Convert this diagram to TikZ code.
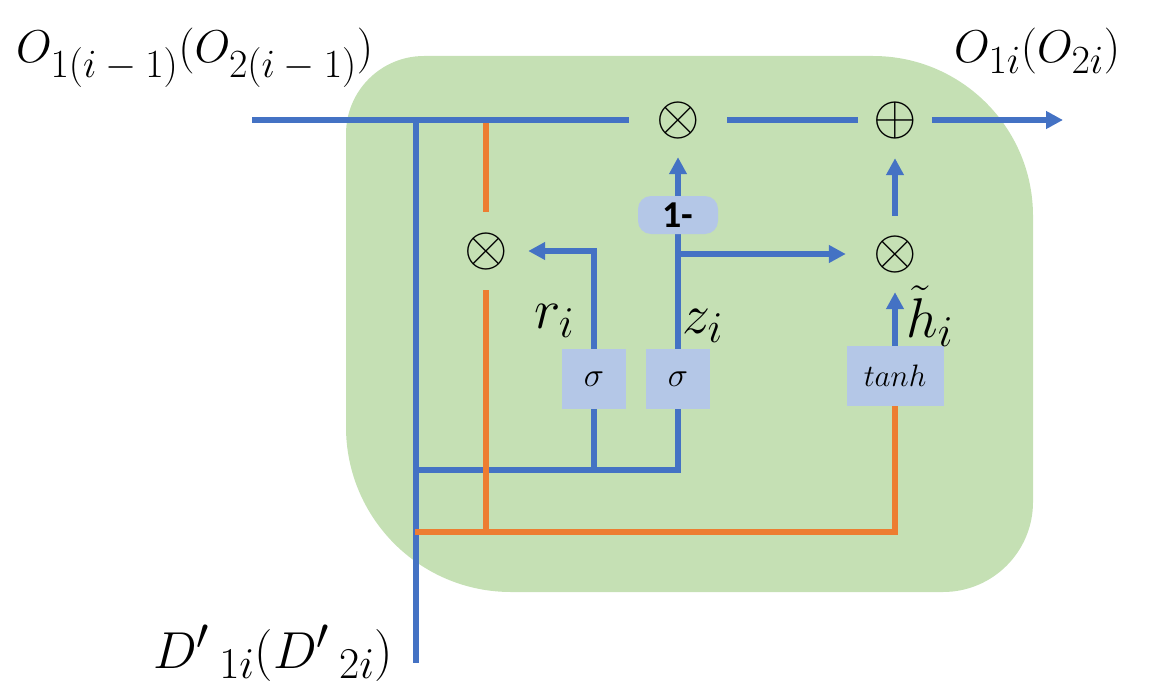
\RequirePackage{fix-cm}
\documentclass[tikz,border=0pt]{standalone}
\usepackage{fontspec}
\newfontfamily\calib{Carlito}
\usetikzlibrary{arrows.meta}
\definecolor{gfill}{HTML}{C5E0B4}
\definecolor{lblue}{HTML}{4472C4}
\definecolor{lorange}{HTML}{ED7D31}
\definecolor{boxc}{HTML}{B4C7E7}
\DeclareMathSizes{46}{46}{40}{30}
\DeclareMathSizes{52}{52}{44}{34}
\DeclareMathSizes{56}{56}{44}{34}
\begin{document}
\begin{tikzpicture}[x=1pt,y=-1pt,
  bl/.style={draw=lblue,line width=5.5pt},
  orl/.style={draw=lorange,line width=5.5pt},
  arr/.style={-{Triangle[length=17pt,width=17pt]}},
  op/.style={inner sep=0pt,font=\fontsize{56}{56}\selectfont},
  gate/.style={fill=boxc,inner sep=0pt,minimum height=60pt,font=\fontsize{34}{34}\selectfont},
  lab/.style={inner sep=0pt,anchor=base west}]
\useasboundingbox (0,0) rectangle (1166,695);
% green cell
\fill[gfill] (424,56) -- (873,56) arc[start angle=270,end angle=360,radius=160]
  -- (1033,502) arc[start angle=0,end angle=90,radius=90]
  -- (511,592) arc[start angle=90,end angle=180,radius=165]
  -- (346,134) arc[start angle=180,end angle=270,radius=78] -- cycle;
% operators
\node[op,minimum width=98pt,minimum height=72pt] (m1) at (678,121) {$\otimes$};
\node[op,minimum width=74pt,minimum height=74pt] (pl) at (895,121) {$\oplus$};
\node[op,minimum width=84pt,minimum height=78pt] (mr) at (486,251) {$\otimes$};
\node[op,minimum width=98pt,minimum height=76pt] (mh) at (895,254) {$\otimes$};
% gates
\node[gate,minimum width=64pt] (sr) at (594,379) {$\sigma$};
\node[gate,minimum width=64pt] (sz) at (678,379) {$\sigma$};
\node[gate,minimum width=97pt,font=\fontsize{31}{31}\selectfont] (th) at (895,376) {$tanh$};
% coordinates
\coordinate (in) at (252,120);
\coordinate (out) at (1063,120);
\coordinate (jt) at (416,120);
\coordinate (dn) at (416,663);
\coordinate (jb) at (416,470);
\coordinate (ol) at (415,532);
\coordinate (ot) at (486,123);
% blue connectors
\draw[bl] (in) -- (in -| m1.west);
\draw[bl] (m1.east |- in) -- (pl.west |- in);
\draw[bl,arr] (pl.east |- in) -- (out);
\draw[bl] (jt) -- (dn);
\draw[bl] (jb) -- (jb -| sz) -- (sz.south);
\draw[bl] (sr.south) -- (sr |- jb);
\draw[bl,arr] (sz.north) -- (m1.south);
\draw[bl,arr] (sz |- mh) -- (mh.west);
\draw[bl,arr] (sr.north) |- (mr.east);
\draw[bl,arr] (th.north) -- (mh.south);
\draw[bl,arr] (mh.north) -- (pl.south);
% orange connectors
\draw[orl] (ol) -- (ol -| th) -- (th.south);
\draw[orl] (mr |- ol) -- (mr.south);
\draw[orl] (ot) -- (mr.north);
% 1- box
\node[fill=boxc,rounded corners=13pt,minimum width=80pt,minimum height=38pt,inner sep=0pt,
  font=\calib\bfseries\fontsize{38}{38}\selectfont] (one) at (678,215) {1-};
% labels
\node[lab,font=\fontsize{46}{46}\selectfont] (o1) at (16,63)
  {$O_{1(i\mskip4mu-\mskip4mu1)}(O_{2(i\mskip4mu-\mskip4mu1)})$};
\node[lab,font=\fontsize{46}{46}\selectfont] (o2) at (954,63) {$O_{1i}(O_{2i})$};
\node[lab,font=\fontsize{52}{52}\selectfont] (d) at (153,668)
  {${D'}_{\mkern4mu 1i}({D'}_{\mkern4mu 2i})$};
\node[lab,font=\fontsize{56}{56}\selectfont] (r) at (534,328) {$r_i$};
\node[lab,font=\fontsize{56}{56}\selectfont] (z) at (682,333) {$z_i$};
\node[lab,font=\fontsize{56}{56}\selectfont] (h) at (906,337) {$\tilde{h}_i$};
\end{tikzpicture}
\end{document}
